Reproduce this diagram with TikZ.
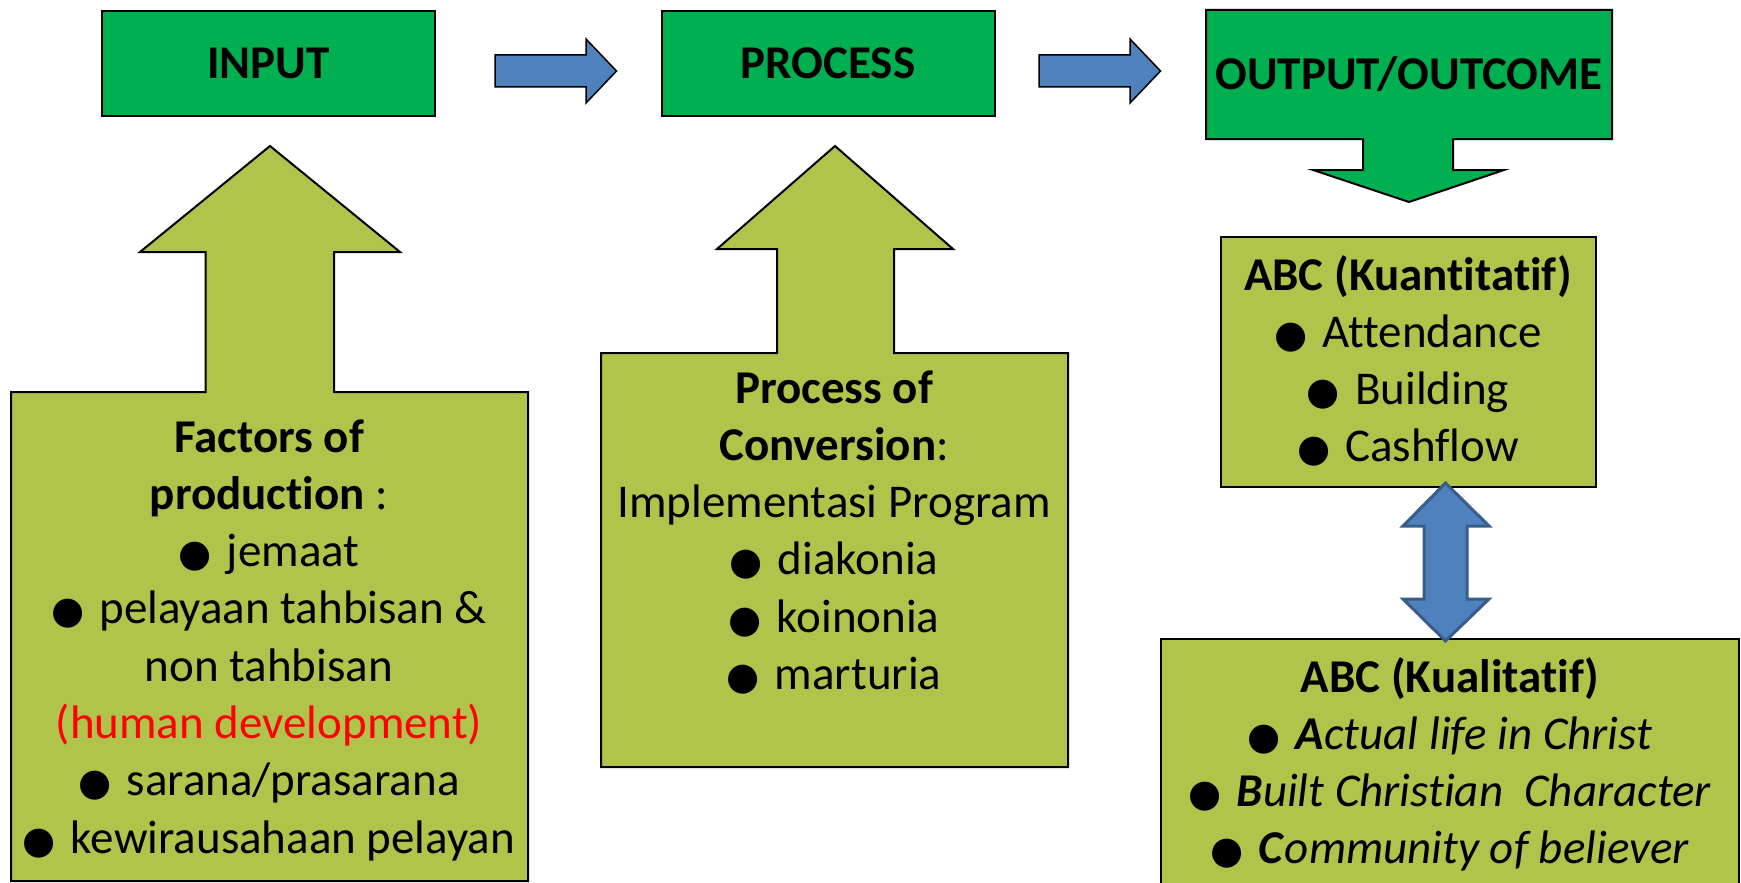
\documentclass[tikz,border=0pt]{standalone}
\usepackage{fontspec}
\setmainfont[RawFeature=-liga]{Carlito}
\newfontfamily\symfont{DejaVu Sans}
\usepackage{xcolor}
\usepackage{tikz}
\usetikzlibrary{calc}

\definecolor{boxgreen}{RGB}{0,176,80}
\definecolor{olive}{RGB}{176,196,76}
\definecolor{arrowblue}{RGB}{79,129,189}
\definecolor{arrowedge}{RGB}{56,93,138}

% bullet in front of the list items
\newcommand{\blt}{{\symfont\fontsize{38}{38}\selectfont ●}\hspace{0.32em}}

\tikzset{
  titlebox/.style={draw=black, line width=2pt, fill=boxgreen, inner sep=0pt,
    font=\fontsize{47}{57.3}\selectfont\bfseries},
  oliveshape/.style={draw=black, line width=2pt, fill=olive},
  blockarrow/.style={draw=black, line width=1.5pt, fill=arrowblue},
  dblarrow/.style={draw=arrowedge, line width=3pt, fill=arrowblue},
  linetext/.style={anchor=base, inner sep=0pt, font=\fontsize{47}{57.3}\selectfont},
}

\begin{document}
\begin{tikzpicture}[x=1pt,y=-1pt]
% Fix the frame of the picture
\clip (0,0) rectangle (1741,883);

% Define the line spacing of the box texts
\def\lineSkip{57.3}

% Callout shapes with their up arrows
\draw[oliveshape] (11,392) -- (205.5,392) -- (205.5,252) -- (140,252) -- (270,146)
  -- (400,252) -- (334,252) -- (334,392) -- (528,392) -- (528,881) -- (11,881) -- cycle;
\draw[oliveshape] (601,353) -- (777,353) -- (777,249) -- (717,249) -- (835,146)
  -- (953,249) -- (894,249) -- (894,353) -- (1068,353) -- (1068,767) -- (601,767) -- cycle;

% Output box with its down arrow
\draw[titlebox] (1206,10) -- (1612,10) -- (1612,139) -- (1453,139) -- (1453,170)
  -- (1504,170) -- (1409,202) -- (1313,170) -- (1363,170) -- (1363,139) -- (1206,139) -- cycle;

% Title boxes
\node[titlebox, minimum width=333pt, minimum height=105pt] (input) at (268.5,63.5) {INPUT};
\node[titlebox, minimum width=333pt, minimum height=105pt] (process) at (828,63.5) {PROCESS};
\node[titlebox, draw=none, fill=none] (output) at (1409,74.5) {OUTPUT/OUTCOME};

% Block arrows between the title boxes
\foreach \sx in {495,1039} {
  \draw[blockarrow] (\sx,55) -- ++(91,0) -- ++(0,-16) -- ++(30.5,32) -- ++(-30.5,32)
    -- ++(0,-16) -- ++(-91,0) -- cycle;
}

% Result boxes
\draw[oliveshape] (1221,237) rectangle (1596,487);
\draw[oliveshape] (1161,639) rectangle (1739,900);

% Two-way arrow between the results
\draw[dblarrow] (1445.5,483) -- (1489,526) -- (1467,526) -- (1467,599) -- (1489,599)
  -- (1445.5,641) -- (1403,599) -- (1424,599) -- (1424,526) -- (1403,526) -- cycle;

% Text of the input callout
\foreach \txt [count=\i] in {{\bfseries Factors of}, {\bfseries production} :,
    {\blt jemaat}, {\blt pelayaan tahbisan \&}, {non tahbisan},
    {\textcolor{red}{(human development)}}, {\blt sarana/prasarana},
    {\blt kewirausahaan pelayan}}
  \node[linetext] (inp-\i) at (269,452+\lineSkip*\i-\lineSkip) {\txt};

% Text of the process callout
\foreach \txt [count=\i] in {{\bfseries Process of}, {\bfseries Conversion}:,
    {Implementasi Program}, {\blt diakonia}, {\blt koinonia}, {\blt marturia}}
  \node[linetext] (proc-\i) at (834,403+\lineSkip*\i-\lineSkip) {\txt};

% Quantitative results
\foreach \txt [count=\i] in {{\bfseries ABC (Kuantitatif)}, {\blt Attendance},
    {\blt Building}, {\blt Cashflow}}
  \node[linetext] (kuan-\i) at (1408,290+\lineSkip*\i-\lineSkip) {\txt};

% Qualitative results
\foreach \txt [count=\i] in {{\bfseries ABC (Kualitatif)},
    {\blt\textbf{\textit{A}}\textit{ctual life in Christ}},
    {\blt\textbf{\textit{B}}\textit{uilt Christian\ \ Character}},
    {\blt\textbf{\textit{C}}\textit{ommunity of believer}}}
  \node[linetext] (kual-\i) at (1450,692+\lineSkip*\i-\lineSkip) {\txt};

\end{tikzpicture}
\end{document}
